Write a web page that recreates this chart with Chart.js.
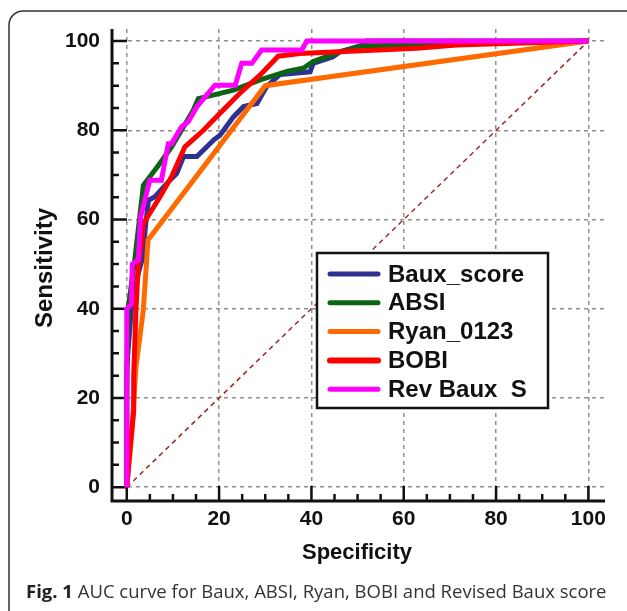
<!DOCTYPE html>
<html>
<head>
<meta charset="utf-8">
<script src="https://cdn.jsdelivr.net/npm/chart.js@4"></script>
<style>
  html, body { margin: 0; padding: 0; background: #fff; }
  #wrap { width: 627px; height: 611px; position: relative; }
</style>
</head>
<body>
<div id="wrap"><canvas id="chart" width="627" height="611"></canvas></div>
<script>
// ROC points as [100 - specificity, sensitivity]
const bauxScore = [[0,0],[0,27],[1,40],[2.5,48],[3.6,52],[4,58],[4.7,64.3],[6.1,65.1],[8.7,68.1],[10.8,70.3],[12.3,74.1],[15.2,74.1],[18.8,77.8],[20.2,78.9],[23.1,83],[25.3,85.3],[28.2,86],[30.3,89.8],[33.2,92.5],[39.7,93.1],[40.4,95],[44.7,96.5],[46.2,97.6],[50.5,98.9],[52,100],[100,100]];
const absi = [[0,0],[0,22],[0.3,40],[1.8,51.6],[2.9,61.4],[3.6,67.7],[5,69.6],[7.2,72.6],[9.7,76.3],[12.3,80.8],[14.4,84.5],[15.5,87.1],[18,87.7],[23.1,89],[28.9,91.3],[34.7,93.2],[38.2,93.9],[40.4,95.4],[46.2,97.6],[48.4,98.1],[51.2,98.9],[63,99.2],[100,100]];
const ryan0123 = [[0,0],[1.1,12],[2,27],[3,35],[3.6,40],[4.6,55.4],[30,90],[100,100]];
const bobi = [[0,0],[0.8,10],[1.5,17],[1.5,25],[2,40],[2.5,50],[3.2,55],[3.6,59.1],[5,61.4],[7.2,65.1],[9.7,69.6],[12.6,76.3],[16.6,80],[20.2,83.8],[24.5,88.3],[28.9,92.4],[32.8,96.6],[37.5,97.2],[48.4,97.7],[62.8,98.4],[71.5,99.1],[100,100]];
const revBaux = [[0,0],[0,40],[1,41],[1.2,50],[2.5,51],[3,60.6],[5,68.8],[7.5,68.8],[9,77],[9.7,77],[11.9,80.8],[13.3,81.9],[15.2,85.3],[17.3,87.9],[19.1,90.1],[23.5,90.1],[24.9,95],[27.1,95],[29.2,98],[37.9,98],[39,100],[100,100]];
const reference = [[0,0],[100,100]];

const seriesNames = ["Baux_score", "ABSI", "Ryan_0123", "BOBI", "Rev Baux  S"];
const seriesColors = ["#2e3192", "#0a6412", "#ff6a00", "#ff0000", "#ff00ff"];
const seriesOrder = [5, 4, 3, 2, 1];
const majorTicks = [0, 20, 40, 60, 80, 100];
const minorTicks = [0, 5, 10, 15, 20, 25, 30, 35, 40, 45, 50, 55, 60, 65, 70, 75, 80, 85, 90, 95, 100];

const toXY = pts => pts.map(p => ({ x: p[0], y: p[1] }));
const allSeries = [bauxScore, absi, ryan0123, bobi, revBaux];

const datasets = allSeries.map((s, i) => ({
  label: seriesNames[i],
  data: toXY(s),
  borderColor: seriesColors[i],
  borderWidth: 5,
  pointRadius: 0,
  tension: 0,
  order: seriesOrder[i]
}));
datasets.push({
  label: "ref",
  data: toXY(reference),
  borderColor: "#9b2a2a",
  borderWidth: 1.5,
  borderDash: [5, 4],
  pointRadius: 0,
  order: 6
});

const BOLD = "'Liberation Sans', Arial, sans-serif";

const frame = {
  id: "frame",
  beforeDatasetsDraw(chart) {
    const { ctx, chartArea: a, scales: { x, y } } = chart;
    ctx.save();
    ctx.strokeStyle = "#111";
    ctx.lineWidth = 2.5;
    ctx.beginPath();
    minorTicks.forEach(v => {
      const len = majorTicks.includes(v) ? 15 : 7;
      const py = y.getPixelForValue(v);
      ctx.moveTo(a.left, py); ctx.lineTo(a.left + len, py);
      const px = x.getPixelForValue(v);
      ctx.moveTo(px, a.bottom); ctx.lineTo(px, a.bottom - len);
    });
    ctx.stroke();
    ctx.lineWidth = 3;
    ctx.beginPath();
    ctx.moveTo(a.left, a.top); ctx.lineTo(a.left, a.bottom); ctx.lineTo(a.right, a.bottom);
    ctx.stroke();
    ctx.restore();
  },
  afterDraw(chart) {
    const { ctx } = chart;
    ctx.save();
    // axis titles
    ctx.fillStyle = "#111";
    ctx.textAlign = "center";
    ctx.textBaseline = "middle";
    ctx.font = "bold 22px " + BOLD;
    ctx.fillText("Specificity", 357, 553);
    ctx.save();
    ctx.translate(45, 268);
    ctx.rotate(-Math.PI / 2);
    ctx.font = "bold 24px " + BOLD;
    ctx.fillText("Sensitivity", 0, 0);
    ctx.restore();

    // legend
    ctx.fillStyle = "#fff";
    ctx.fillRect(317, 253, 231, 155);
    ctx.strokeStyle = "#111";
    ctx.lineWidth = 2.5;
    ctx.strokeRect(317, 253, 231, 155);
    ctx.lineCap = "round";
    seriesNames.forEach((name, i) => {
      const yy = 274 + i * 28.8;
      ctx.strokeStyle = seriesColors[i];
      ctx.lineWidth = i === 3 ? 6 : 5;
      ctx.beginPath(); ctx.moveTo(330, yy); ctx.lineTo(378, yy); ctx.stroke();
      ctx.fillStyle = "#111";
      ctx.textAlign = "left";
      ctx.font = "bold 24px " + BOLD;
      ctx.fillText(name, 388, yy + 1);
    });

    // caption
    ctx.textBaseline = "alphabetic";
    ctx.textAlign = "left";
    ctx.font = "bold 18.5px 'Open Sans'";
    ctx.fillStyle = "#222";
    ctx.fillText("Fig. 1", 26, 598);
    const w = ctx.measureText("Fig. 1 ").width;
    ctx.font = "18.5px 'Open Sans'";
    ctx.fillStyle = "#333";
    ctx.fillText("AUC curve for Baux, ABSI, Ryan, BOBI and Revised Baux score", 26 + w, 598);

    // outer frame
    ctx.strokeStyle = "#333";
    ctx.lineWidth = 1.5;
    ctx.beginPath();
    ctx.moveTo(9, 615);
    ctx.lineTo(9, 25);
    ctx.arcTo(9, 11, 23, 11, 14);
    ctx.lineTo(630, 11);
    ctx.stroke();
    ctx.restore();
  }
};

const gridColor = c => majorTicks.includes(c.tick.value) ? "#8f8f8f" : "rgba(0,0,0,0)";
const setTicks = s => { s.ticks = minorTicks.map(v => ({ value: v })); };
const tickLabel = v => majorTicks.includes(v) ? String(v) : "";

new Chart(document.getElementById("chart"), {
  type: "line",
  data: { datasets },
  options: {
    responsive: false,
    animation: false,
    events: [],
    layout: { padding: { left: 0, top: 29, right: 22, bottom: 0 } },
    plugins: { legend: { display: false }, tooltip: { enabled: false } },
    scales: {
      x: {
        type: "linear",
        min: -3.2,
        max: 103.6,
        afterBuildTicks: setTicks,
        afterFit: s => { s.height = 110; },
        grid: { color: gridColor, lineWidth: 1.5, drawTicks: false },
        border: { display: false, dash: [4, 4] },
        ticks: {
          autoSkip: false, maxRotation: 0, padding: 6,
          color: "#111", font: { family: BOLD, size: 21, weight: "bold" },
          callback: tickLabel
        }
      },
      y: {
        type: "linear",
        min: -3.1,
        max: 102.7,
        afterBuildTicks: setTicks,
        afterFit: s => { s.width = 112; },
        grid: { color: gridColor, lineWidth: 1.5, drawTicks: false },
        border: { display: false, dash: [4, 4] },
        ticks: {
          autoSkip: false, padding: 12,
          color: "#111", font: { family: BOLD, size: 21, weight: "bold" },
          callback: tickLabel
        }
      }
    }
  },
  plugins: [frame]
});
</script>
</body>
</html>
